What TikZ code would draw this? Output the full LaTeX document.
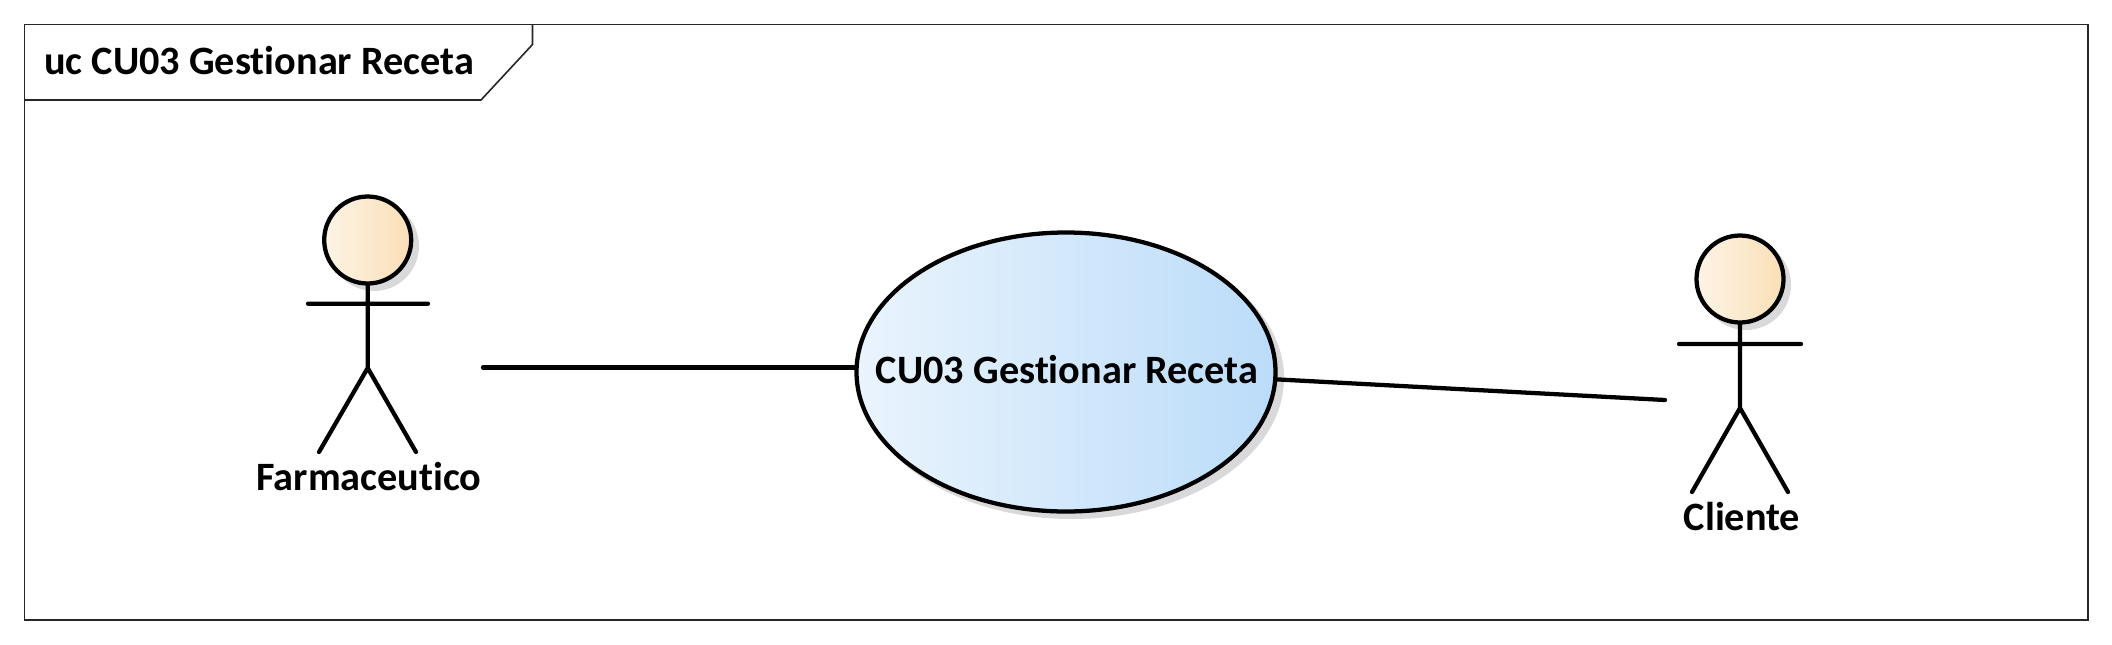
\documentclass[tikz,border=0pt]{standalone}
\usepackage{fontspec}
\setmainfont{Carlito}[Ligatures=NoCommon]
\usetikzlibrary{shapes.geometric}
\definecolor{shadowgray}{HTML}{D9D9DB}
\definecolor{ucleft}{HTML}{EAF4FD}
\definecolor{ucright}{HTML}{BBDCF9}
\definecolor{headleft}{HTML}{FDF4E6}
\definecolor{headright}{HTML}{FADFB6}
\newcommand{\pxu}{*0.75pt}
\tikzset{
  framelines/.style={line width=1.2pt,draw=black!85},
  limb/.style={line width=3.2pt,line cap=round},
  headshape/.style={circle,draw=black,line width=3.2pt,minimum size=87\pxu,inner sep=0pt,outer sep=0pt,left color=headleft,right color=headright},
  ucshape/.style={ellipse,draw=black,line width=3.2pt,minimum width=419\pxu,minimum height=279\pxu,inner sep=0pt,outer sep=0pt,left color=ucleft,right color=ucright},
  biglabel/.style={inner sep=0pt,font=\bfseries\fontsize{30.2}{33}\selectfont,text=black},
  actorlabel/.style={biglabel,anchor=base},
  titlelabel/.style={biglabel,anchor=base west},
  assoc/.style={line width=3.2pt,line cap=round}
}
\begin{document}
\begin{tikzpicture}[x=0.75pt,y=-0.75pt]
\useasboundingbox (0,0) rectangle (2112,644);
% frame
\draw[framelines] (24.5,24.5) rectangle (2088,620);
\draw[framelines] (24.5,100) -- (481,100) -- (532.5,44.5) -- (532.5,24.5);
\node[titlelabel] (title) at (44,74) {uc CU03 Gestionar Receta};
% shadows
\fill[shadowgray] (1072,378) ellipse [x radius=212,y radius=141];
\fill[shadowgray] (374,246) circle [radius=45];
\fill[shadowgray] (1746,285) circle [radius=45];
% use case
\node[ucshape] (uc) at (1066,372) {};
\node[actorlabel] (uctext) at (1067,383) {CU03 Gestionar Receta};
% actor Farmaceutico
\coordinate (aneck) at (367.7,285);
\coordinate (ahip) at (367.7,368);
\coordinate (aarmL) at (308,303.7);
\coordinate (aarmR) at (428,303.7);
\coordinate (alegL) at (319,452);
\coordinate (alegR) at (416,452);
\draw[limb] (aneck) -- (ahip) (aarmL) -- (aarmR) (alegL) -- (ahip) -- (alegR);
\node[headshape] (ahead) at (367.7,240) {};
\node[actorlabel] (alabel) at (369,490) {Farmaceutico};
% actor Cliente
\coordinate (bneck) at (1740,324);
\coordinate (bhip) at (1740,408);
\coordinate (barmL) at (1679,344);
\coordinate (barmR) at (1801,344);
\coordinate (blegL) at (1692,492);
\coordinate (blegR) at (1788,492);
\draw[limb] (bneck) -- (bhip) (barmL) -- (barmR) (blegL) -- (bhip) -- (blegR);
\node[headshape] (bhead) at (1740,279) {};
\node[actorlabel] (blabel) at (1742,530) {Cliente};
% associations
\coordinate (afree) at (483,367.5);
\coordinate (bfree) at (1665,400);
\draw[assoc] (afree) -- (afree -| uc.west);
\draw[assoc] (uc.-2.2) -- (bfree);
\end{tikzpicture}
\end{document}
